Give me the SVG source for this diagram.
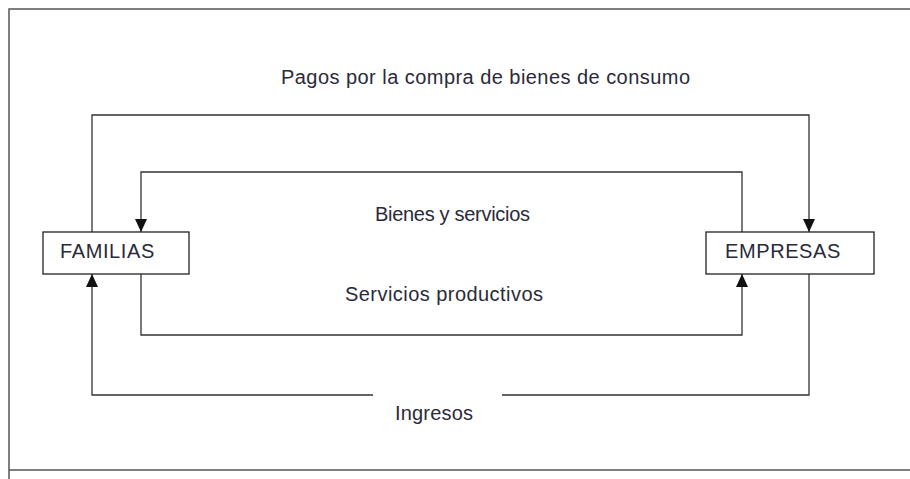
<svg xmlns="http://www.w3.org/2000/svg" width="910" height="479" viewBox="0 0 910 479">
  <style>
    .frame { stroke: #555; stroke-width: 1.5; fill: none; }
    .box { fill: #fff; stroke: #222; stroke-width: 1.3; }
    .conn { fill: none; stroke: #333; stroke-width: 1.3; }
    .lbl { font-family: "Liberation Sans", Arial, sans-serif; font-size: 20px; fill: #2a2a3a; }
    .node { font-family: "Liberation Sans", Arial, sans-serif; font-size: 20px; fill: #2a2a3a; letter-spacing: 0.6px; }
  </style>
  <defs>
    <marker id="arr" viewBox="0 0 13 12" refX="13" refY="6" markerWidth="13" markerHeight="12" markerUnits="userSpaceOnUse" orient="auto">
      <path d="M0,0 L13,6 L0,12 z" fill="#111"/>
    </marker>
  </defs>
  <rect width="910" height="479" fill="#fff"/>
  <g id="frame">
    <path class="frame" d="M9,479 V9 H910 M9,470 H910"/>
  </g>
  <g id="connectors">
    <path class="conn" d="M92,232 V115 H809 V232" marker-end="url(#arr)"/>
    <path class="conn" d="M742,232 V172 H141 V232" marker-end="url(#arr)"/>
    <path class="conn" d="M141,274 V335 H742 V274" marker-end="url(#arr)"/>
    <path class="conn" d="M809,274 V395 H502"/>
    <path class="conn" d="M373,395 H92 V274" marker-end="url(#arr)"/>
  </g>
  <g id="familias">
    <rect class="box" x="43" y="232" width="146" height="42"/>
    <text class="node" x="60" y="258">FAMILIAS</text>
  </g>
  <g id="empresas">
    <rect class="box" x="706" y="232" width="168" height="42"/>
    <text class="node" x="725" y="258">EMPRESAS</text>
  </g>
  <g id="labels">
    <text class="lbl" x="281" y="84" textLength="409">Pagos por la compra de bienes de consumo</text>
    <text class="lbl" x="375" y="221" textLength="155">Bienes y servicios</text>
    <text class="lbl" x="345" y="301" textLength="198">Servicios productivos</text>
    <text class="lbl" x="395" y="420" textLength="78">Ingresos</text>
  </g>
</svg>
